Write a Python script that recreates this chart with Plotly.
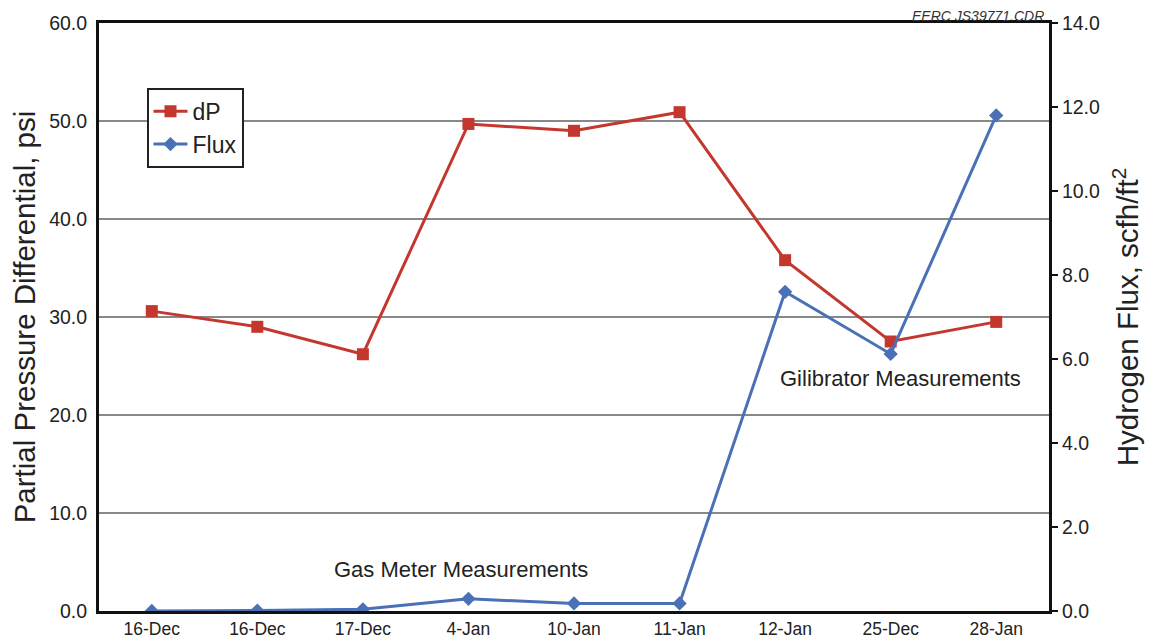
import plotly.graph_objects as go

categories = ["16-Dec", "16-Dec", "17-Dec", "4-Jan", "10-Jan", "11-Jan", "12-Jan", "25-Dec", "28-Jan"]
dp_values = [30.6, 29.0, 26.2, 49.7, 49.0, 50.9, 35.8, 27.5, 29.5]
flux_values = [0.0, 0.01, 0.04, 0.29, 0.18, 0.18, 7.6, 6.12, 11.8]
left_ticks = [0, 10, 20, 30, 40, 50, 60]
right_ticks = [0, 2, 4, 6, 8, 10, 12, 14]

x_idx = list(range(len(categories)))
RED = "#C4372F"
BLUE = "#4A70B6"
FONT = "Liberation Sans, Arial, sans-serif"

fig = go.Figure()
fig.add_trace(go.Scatter(x=x_idx, y=dp_values, name="dP", mode="lines+markers",
                         line=dict(color=RED, width=3),
                         marker=dict(symbol="square", size=12, color=RED)))
fig.add_trace(go.Scatter(x=x_idx, y=flux_values, name="Flux", mode="lines+markers",
                         yaxis="y2",
                         line=dict(color=BLUE, width=3),
                         marker=dict(symbol="diamond", size=11, color=BLUE)))

fig.update_layout(
    width=1149, height=635,
    margin=dict(l=91, r=108, t=15, b=32, autoexpand=False),
    paper_bgcolor="white", plot_bgcolor="white",
    font=dict(family=FONT, color="#222222"),
    showlegend=True,
    legend=dict(x=0.05, y=0.89, xanchor="left", yanchor="top",
                bgcolor="white", bordercolor="#222222", borderwidth=2,
                font=dict(size=23, family=FONT), itemwidth=34,
                tracegroupgap=0),
    xaxis=dict(range=[-0.5, 8.5], tickmode="array", tickvals=x_idx, ticktext=categories,
               showgrid=False, zeroline=False, showline=True, linecolor="#111111",
               linewidth=3, mirror=True, ticks="", automargin=False,
               tickfont=dict(size=17.5, family=FONT)),
    yaxis=dict(range=[0, 60], tickmode="array", tickvals=left_ticks,
               ticktext=[f"{v:.1f}" for v in left_ticks],
               showgrid=True, gridcolor="#888888", gridwidth=1.5, zeroline=False,
               showline=True, linecolor="#111111", linewidth=3, ticks="",
               ticklabelstandoff=5, automargin=False,
               tickfont=dict(size=19.5, family=FONT),
               title=dict(text="Partial Pressure Differential, psi",
                          font=dict(size=29.5, family=FONT), standoff=15)),
    yaxis2=dict(range=[0, 14], overlaying="y", side="right", tickmode="array",
                tickvals=right_ticks, ticktext=[f"{v:.1f}" for v in right_ticks],
                showgrid=False, zeroline=False, showline=True, linecolor="#111111",
                linewidth=3, ticks="outside", ticklen=6, tickwidth=1.5, tickcolor="#111111",
                automargin=False, ticklabelstandoff=0,
                tickfont=dict(size=19.5, family=FONT),
                title=dict(text="Hydrogen Flux, scfh/ft<sup>2</sup>",
                           font=dict(size=29.5, family=FONT), standoff=19)),
    annotations=[
        dict(text="<i>EERC JS39771.CDR</i>", xref="paper", yref="paper", x=0.997, y=1.0,
             xanchor="right", yanchor="bottom", showarrow=False,
             font=dict(size=14, family=FONT, color="#333333"), yshift=-3),
        dict(text="Gas Meter Measurements", xref="x", yref="y", x=2.93, y=4.2,
             showarrow=False, font=dict(size=22, family=FONT, color="#222222")),
        dict(text="Gilibrator Measurements", xref="x", yref="y", x=7.09, y=23.7,
             showarrow=False, font=dict(size=22, family=FONT, color="#222222")),
    ],
)

fig.write_html("out.html")
